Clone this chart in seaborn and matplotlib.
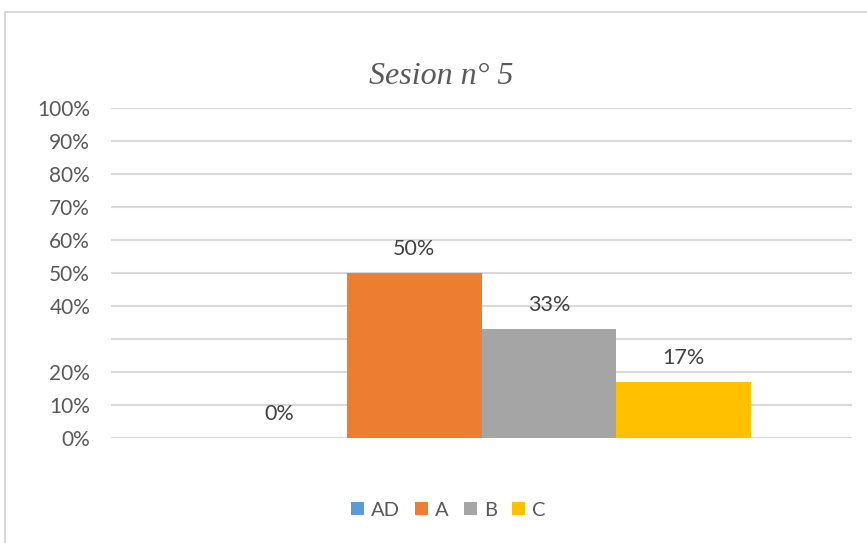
import matplotlib
matplotlib.use("Agg")
import matplotlib.pyplot as plt
import seaborn as sns
import pandas as pd
from matplotlib.patches import Patch
from matplotlib.lines import Line2D

# Data
categories = ["Sesion n° 5"]
series = ["AD", "A", "B", "C"]
values = [0.0, 0.50, 0.33, 0.17]
value_labels = ["0%", "50%", "33%", "17%"]
colors = ["#5B9BD5", "#ED7D31", "#A5A5A5", "#FFC000"]
yticks = [0, 0.1, 0.2, 0.3, 0.4, 0.5, 0.6, 0.7, 0.8, 0.9, 1.0]
ytick_labels = ["0%", "10%", "20%", "", "40%", "50%", "60%", "70%", "80%", "90%", "100%"]
title = "Sesion n° 5"

sns.set_theme(style="white")
plt.rcParams['font.family'] = ['Lato', 'DejaVu Sans']

df = pd.DataFrame({"cat": categories * len(series), "serie": series, "val": values})

fig = plt.figure(figsize=(8.67, 5.43), dpi=100)
ax = fig.add_axes([111/867, 1-438/543, (852-111)/867, (438-108)/543])

sns.barplot(data=df, x="cat", y="val", hue="serie", hue_order=series,
            palette=colors, width=0.727, dodge=True, ax=ax, legend=False,
            saturation=1, errorbar=None, linewidth=0, zorder=3)

ax.set_xlim(-0.5, 0.5)
ax.set_ylim(0, 1.0)
ax.set_yticks(yticks)
ax.set_yticklabels(ytick_labels, color="#595959", fontsize=15)
ax.tick_params(axis="y", length=0, pad=15)
ax.set_xticks([])
ax.set_xlabel("")
ax.set_ylabel("")
for s in ax.spines.values():
    s.set_visible(False)
ax.yaxis.grid(True, color="#D9D9D9", linewidth=1.5, zorder=0)
ax.set_axisbelow(True)

# Bar labels
bars_sorted = sorted(ax.patches, key=lambda p: p.get_x())
for p, lab in zip(bars_sorted, value_labels):
    ax.annotate(lab, (p.get_x() + p.get_width()/2, p.get_height()),
                xytext=(0, 17.5), textcoords="offset points",
                ha="center", va="center", fontsize=15.5, color="#404040")

# Title
fig.text(441.5/867, 1 - 76.5/543, title, ha="center", va="center",
         fontsize=23, style="italic", family=["Liberation Serif"], color="#595959")

# Legend
handles = [Patch(facecolor=c, edgecolor="none") for c in colors]
fig.legend(handles, series, loc="center", bbox_to_anchor=(448/867, 1 - 510/543),
           ncol=4, frameon=False, handlelength=0.65, handleheight=0.65,
           handletextpad=0.35, columnspacing=0.75, fontsize=14.5,
           labelcolor="#595959")

# Chart border (left and top visible)
fig.add_artist(Line2D([5/867, 5/867], [0, 1 - 12/543], transform=fig.transFigure,
                      color="#D9D9D9", linewidth=1.5))
fig.add_artist(Line2D([5/867, 1], [1 - 12/543, 1 - 12/543], transform=fig.transFigure,
                      color="#D9D9D9", linewidth=1.5))

fig.savefig("out.png", dpi=100, facecolor="white")
